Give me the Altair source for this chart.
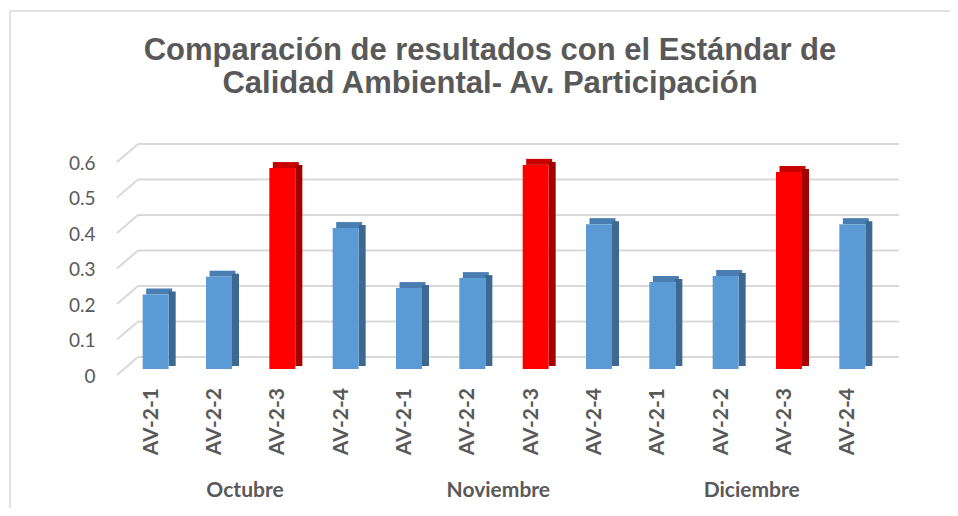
import altair as alt
import pandas as pd

# ---------------- data ----------------
months = ["Octubre", "Noviembre", "Diciembre"]
stations = ["AV-2-1", "AV-2-2", "AV-2-3", "AV-2-4"]
oct_vals = [0.210, 0.260, 0.566, 0.397]
nov_vals = [0.228, 0.256, 0.575, 0.408]
dic_vals = [0.245, 0.262, 0.555, 0.408]
y_ticks = [0, 0.1, 0.2, 0.3, 0.4, 0.5, 0.6]
title_lines = ["Comparación de resultados con el Estándar de",
               "Calidad Ambiental- Av. Participación"]

rows = []
for m, vals in zip(months, [oct_vals, nov_vals, dic_vals]):
    for s, v in zip(stations, vals):
        rows.append({"month": m, "station": s, "key": f"{m}|{s}", "value": v})
df = pd.DataFrame(rows)
order = list(df["key"])
df_months = pd.DataFrame({"month": months, "key": [f"{m}|AV-2-2" for m in months]})
df_ticks = pd.DataFrame({"value": y_ticks})
df_one = pd.DataFrame({"k": [0]})

# ---------------- style ----------------
W, H = 760, 213
GREY = "#595959"
GRID = "#D9D9D9"
BLUE, BLUE_TOP, BLUE_SIDE = "#5B9BD5", "#4A7EB3", "#3C6891"
RED, RED_TOP, RED_SIDE = "#FF0000", "#C80000", "#A30000"
is_red = "datum.station == 'AV-2-3'"

xenc = alt.X("key:N", sort=order,
             scale=alt.Scale(domain=order, paddingInner=0, paddingOuter=0),
             axis=None)
yaxis = alt.Axis(title=None, grid=False, domain=False, ticks=False,
                 values=y_ticks, format=".1~f", labelFont="Lato",
                 labelFontSize=19, labelColor=GREY, labelPadding=29,
                 labelOffset=7)
yscale = alt.Scale(domain=[0, 0.6], nice=False, zero=True)


def Y(field="value"):
    return alt.Y(f"{field}:Q", scale=yscale, axis=yaxis)


base = alt.Chart(df)

# back-plane gridlines
grid = alt.Chart(df_ticks).mark_rule(
    color=GRID, strokeWidth=2, yOffset=-12, y2Offset=-12
).encode(x=alt.value(14), x2=alt.value(775), y=Y(), y2=alt.Y2("value"))

# slanted side-wall lines
slant = alt.Chart(df_ticks).mark_rule(
    color=GRID, strokeWidth=2, yOffset=6, y2Offset=-12
).encode(x=alt.value(-7), x2=alt.value(14), y=Y(), y2=alt.Y2("value"))

# 3D bar faces
top = base.mark_bar(width=26, xOffset=3.5, y2Offset=-6).encode(
    x=xenc, y=Y(), y2=alt.Y2("value"),
    color=alt.condition(is_red, alt.value(RED_TOP), alt.value(BLUE_TOP)))
side = base.mark_bar(width=7, xOffset=16.5, yOffset=-3, y2Offset=-3).encode(
    x=xenc, y=Y(), y2=alt.datum(0),
    color=alt.condition(is_red, alt.value(RED_SIDE), alt.value(BLUE_SIDE)))
front = base.mark_bar(width=26).encode(
    x=xenc, y=Y(), y2=alt.datum(0),
    color=alt.condition(is_red, alt.value(RED), alt.value(BLUE)))

# category labels
st_labels = base.mark_text(
    angle=270, align="right", baseline="middle", font="Lato",
    fontWeight="bold", fontSize=21, color=GREY, xOffset=-4
).encode(x=xenc, y=alt.value(232), text="station:N")

m_labels = alt.Chart(df_months).mark_text(
    align="center", baseline="middle", font="Lato", fontWeight="bold",
    fontSize=21, color=GREY, xOffset=26
).encode(x=xenc, y=alt.value(335), text="month:N")

# chart title (two lines)
title_layers = []
for line, ypos in zip(title_lines, [-96, -63]):
    title_layers.append(
        alt.Chart(pd.DataFrame({"line": [line]})).mark_text(
            align="center", baseline="alphabetic", font="Liberation Sans",
            fontWeight="bold", fontSize=31, color=GREY
        ).encode(x=alt.value(366), y=alt.value(ypos), text="line:N")
    )

# chart border (left and top edges)
border_left = alt.Chart(df_one).mark_rule(color=GRID, strokeWidth=1.5).encode(
    x=alt.value(-114), x2=alt.value(-114), y=alt.value(-145), y2=alt.value(360))
border_top = alt.Chart(df_one).mark_rule(color=GRID, strokeWidth=1.5).encode(
    x=alt.value(-114), x2=alt.value(830), y=alt.value(-145), y2=alt.value(-145))

chart = alt.layer(
    border_left, border_top, grid, slant, top, side, front, st_labels,
    m_labels, *title_layers
).properties(
    width=W, height=H,
    autosize=alt.AutoSizeParams(type="none"),
    padding={"left": 116, "top": 148, "right": 66, "bottom": 139},
    background="white",
).configure_view(stroke=None)

chart.save("out.html", embed_options={"renderer": "svg", "actions": False})
